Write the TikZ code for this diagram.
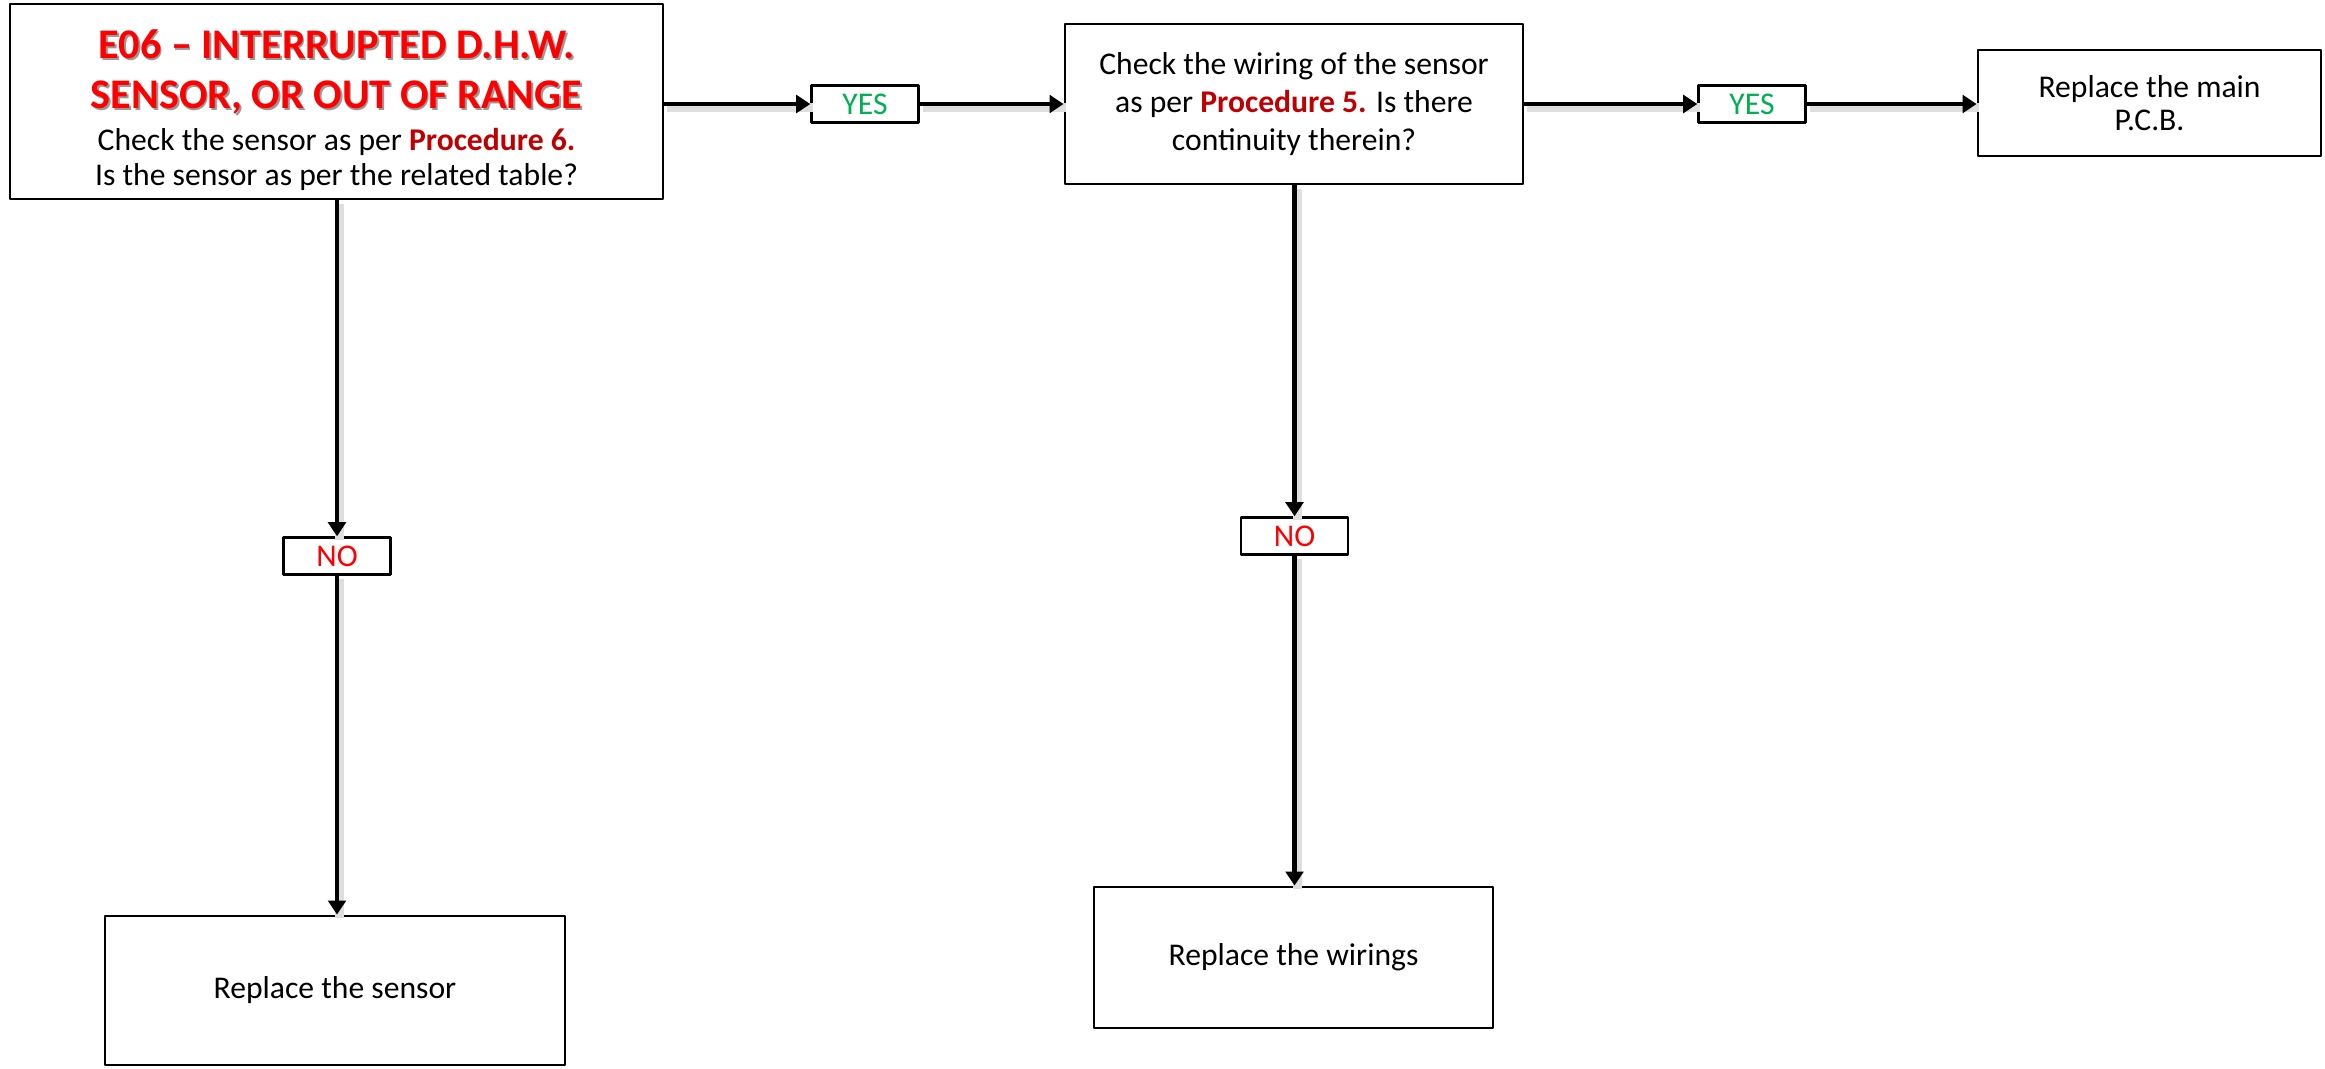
\documentclass[tikz,border=0pt]{standalone}
\usepackage{fontspec}
\setmainfont{Carlito}
\usetikzlibrary{arrows.meta}

\definecolor{titlered}{RGB}{255,0,0}
\definecolor{procred}{RGB}{192,0,0}
\definecolor{yesgreen}{RGB}{0,176,80}

\newcommand{\titleline}[1]{{\fontsize{12}{10.7}\selectfont\bfseries
  \rlap{\kern0.5pt\raisebox{-0.6pt}{\textcolor{black!40}{#1}}}\textcolor{titlered}{#1}}}
\newcommand{\proc}[1]{\textbf{\textcolor{procred}{#1}}}

\tikzset{
  box/.style={draw, line width=0.8pt, align=center, inner sep=2pt,
    font=\fontsize{9}{10.7}\selectfont},
  tag/.style={draw, line width=0.7pt, minimum width=1.07cm, minimum height=0.37cm,
    inner sep=0pt, font=\fontsize{9}{10}\selectfont},
  flow/.style={line width=1.4pt, -{Triangle[length=4pt,width=5pt]},
    preaction={draw=black!13, line width=2.6pt, -, transform canvas={shift={(0.8pt,-1pt)}}}}
}

\begin{document}
\begin{tikzpicture}[line join=round]
	\useasboundingbox (0,0) rectangle (23.25,-10.68);

	%Question boxes
	\node[box, minimum width=6.53cm, minimum height=1.95cm] (start) at (3.365,-1.015)
	  {\rule{0pt}{13pt}\titleline{E06 -- INTERRUPTED D.H.W.}\\[3.5pt]
	   \titleline{SENSOR, OR OUT OF RANGE}\\[1.3pt]
	   Check the sensor as per \proc{Procedure 6.}\\[-0.7pt]
	   Is the sensor as per the related table?};
	\node[box, minimum width=4.58cm, minimum height=1.6cm] (check) at (12.94,-1.04)
	  {Check the wiring of the sensor\\
	   as per \proc{Procedure 5.} Is there\\
	   continuity therein?};

	%Result boxes
	\node[box, minimum width=3.43cm, minimum height=1.06cm] (pcb) at (21.495,-1.03)
	  {Replace the main\\[-1.5pt]P.C.B.};
	\node[box, minimum width=4.6cm, minimum height=1.49cm] (sensor) at (3.35,-9.905)
	  {Replace the sensor};
	\node[box, minimum width=3.99cm, minimum height=1.41cm] (wiring) at (12.935,-9.575)
	  {Replace the wirings};

	%Answers
	\node[tag, text=yesgreen] (yesA) at (8.65,-1.04) {YES};
	\node[tag, text=yesgreen] (yesB) at (17.52,-1.04) {YES};
	\node[tag, text=titlered] (noA) at (3.37,-5.56) {NO};
	\node[tag, text=titlered] (noB) at (12.945,-5.36) {NO};

	%Connectors
	\draw[flow] (start.east |- yesA) -- (yesA);
	\draw[flow] (yesA) -- (check.west |- yesA);
	\draw[flow] (check.east |- yesB) -- (yesB);
	\draw[flow] (yesB) -- (pcb.west |- yesB);
	\draw[flow] (start.south -| noA) -- (noA);
	\draw[flow] (noA) -- (sensor.north -| noA);
	\draw[flow] (check.south -| noB) -- (noB);
	\draw[flow] (noB) -- (wiring.north -| noB);

\end{tikzpicture}
\end{document}
